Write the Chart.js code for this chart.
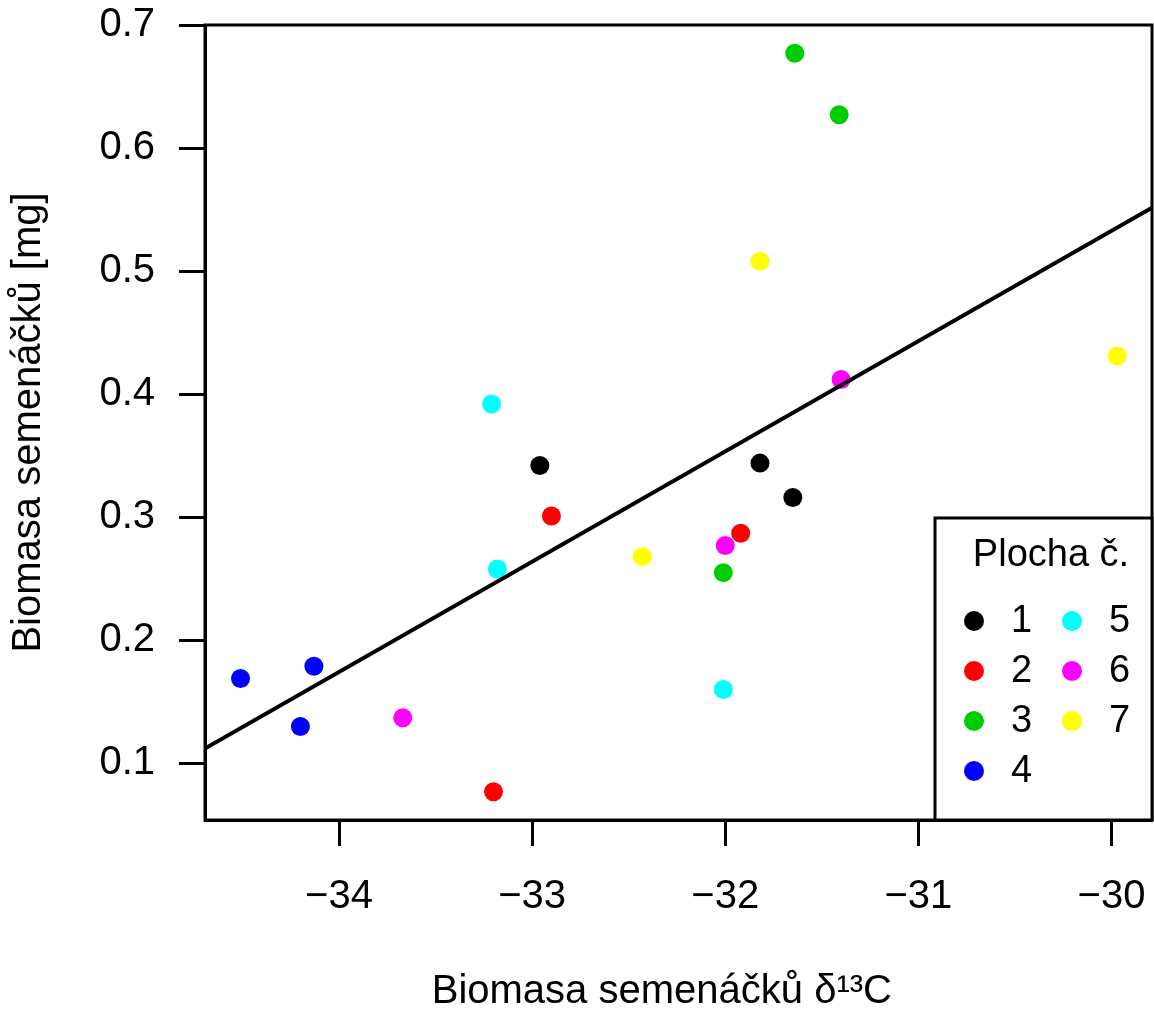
<!DOCTYPE html>
<html>
<head>
<meta charset="utf-8">
<script src="https://cdn.jsdelivr.net/npm/chart.js@4.4.1/dist/chart.umd.min.js"></script>
<style>
  html, body { margin: 0; padding: 0; background: #ffffff; }
  #wrap { width: 1154px; height: 1012px; position: relative; }
</style>
</head>
<body>
<div id="wrap"><canvas id="c" width="1154" height="1012"></canvas></div>
<script>
// ---- data ----
const plochaLabels = ['1', '2', '3', '4', '5', '6', '7'];
const plocha1X = [-32.96, -31.82, -31.65];
const plocha1Y = [0.342, 0.344, 0.316];
const plocha2X = [-32.90, -31.92, -33.20];
const plocha2Y = [0.301, 0.287, 0.077];
const plocha3X = [-31.64, -31.41, -32.01];
const plocha3Y = [0.677, 0.627, 0.255];
const plocha4X = [-34.51, -34.13, -34.20];
const plocha4Y = [0.169, 0.179, 0.130];
const plocha5X = [-33.21, -33.18, -32.01];
const plocha5Y = [0.392, 0.258, 0.160];
const plocha6X = [-31.40, -32.00, -33.67];
const plocha6Y = [0.412, 0.277, 0.137];
const plocha7X = [-31.82, -29.97, -32.43];
const plocha7Y = [0.508, 0.431, 0.268];
const fitLineX = [-34.69, -29.79];
const fitLineY = [0.1125, 0.5516];
const xTicks = [-34, -33, -32, -31, -30];
const yTicks = [0.1, 0.2, 0.3, 0.4, 0.5, 0.6, 0.7];
const xTitle = 'Biomasa semenáčků δ¹³C';
const yTitle = 'Biomasa semenáčků [mg]';
const legendTitle = 'Plocha č.';

// ---- style ----
const palette = ['#000000', '#FF0000', '#00CD00', '#0000FF', '#00FFFF', '#FF00FF', '#FFFF00'];
const FONT = '"Liberation Sans", Arial, Helvetica, sans-serif';

const seriesX = [plocha1X, plocha2X, plocha3X, plocha4X, plocha5X, plocha6X, plocha7X];
const seriesY = [plocha1Y, plocha2Y, plocha3Y, plocha4Y, plocha5Y, plocha6Y, plocha7Y];
const pointSets = plochaLabels.map((lab, i) => ({
  type: 'scatter',
  label: lab,
  data: seriesX[i].map((x, j) => ({ x: x, y: seriesY[i][j] })),
  backgroundColor: palette[i],
  borderWidth: 0,
  pointRadius: 9.5,
  pointHoverRadius: 9.5,
  order: 1
}));
const lineSet = {
  type: 'line',
  label: 'fit',
  data: fitLineX.map((x, j) => ({ x: x, y: fitLineY[j] })),
  borderColor: '#000000',
  borderWidth: 4,
  pointRadius: 0,
  fill: false,
  order: 0
};

const framePlugin = {
  id: 'frame',
  afterDraw(chart) {
    const { ctx, chartArea: a } = chart;
    ctx.save();
    ctx.strokeStyle = '#000';
    ctx.lineWidth = 3;
    ctx.strokeRect(a.left, a.top, a.right - a.left, a.bottom - a.top);

    // legend box (inside plot, bottom-right)
    const lx = 935, ly = 518;
    ctx.fillStyle = '#fff';
    ctx.fillRect(lx, ly, a.right - lx, a.bottom - ly);
    ctx.strokeRect(lx, ly, a.right - lx, a.bottom - ly);
    ctx.fillStyle = '#000';
    ctx.font = '38px ' + FONT;
    ctx.textAlign = 'center';
    ctx.textBaseline = 'middle';
    ctx.fillText(legendTitle, 1051, 556);
    const sets = chart.data.datasets.filter(d => d.type === 'scatter');
    const rowY = [621, 671, 721, 771];
    ctx.textAlign = 'left';
    sets.forEach((d, i) => {
      const col = i < 4 ? 0 : 1;
      const row = i < 4 ? i : i - 4;
      const dx = col === 0 ? 974 : 1072;
      const y = rowY[row];
      ctx.beginPath();
      ctx.arc(dx, y, 10, 0, Math.PI * 2);
      ctx.fillStyle = d.backgroundColor;
      ctx.fill();
      ctx.fillStyle = '#000';
      ctx.fillText(d.label, dx + 37, y + 1);
    });
    ctx.restore();
  }
};

new Chart(document.getElementById('c'), {
  type: 'scatter',
  data: { datasets: [lineSet, ...pointSets] },
  options: {
    responsive: false,
    animation: false,
    devicePixelRatio: 1,
    layout: { autoPadding: false, padding: { top: 25, right: 2, left: 0, bottom: 0 } },
    plugins: { legend: { display: false }, tooltip: { enabled: false } },
    scales: {
      x: {
        type: 'linear',
        min: -34.694,
        max: -29.79,
        afterBuildTicks(s) { s.ticks = xTicks.map(v => ({ value: v })); },
        afterFit(s) { s.height = 192; s.paddingLeft = 0; s.paddingRight = 0; },
        ticks: {
          color: '#000',
          font: { family: FONT, size: 40 },
          padding: 27,
          maxRotation: 0,
          autoSkip: false,
          callback: v => (v < 0 ? '\u2212' : '') + Math.abs(v)
        },
        grid: { drawOnChartArea: false, drawTicks: true, tickLength: 26, tickColor: '#000', tickWidth: 3 },
        border: { display: true, color: '#000', width: 3 },
        title: { display: true, text: xTitle + '\u00A0\u00A0\u00A0', color: '#000', font: { family: FONT, size: 40, lineHeight: 1 }, padding: { top: 0, bottom: 0 } }
      },
      y: {
        type: 'linear',
        min: 0.054,
        max: 0.7,
        afterBuildTicks(s) { s.ticks = yTicks.map(v => ({ value: v })); },
        afterFit(s) { s.width = 205; s.paddingTop = 0; s.paddingBottom = 0; },
        ticks: {
          color: '#000',
          font: { family: FONT, size: 40 },
          padding: 24,
          autoSkip: false,
          callback: v => v.toFixed(1)
        },
        grid: { drawOnChartArea: false, drawTicks: true, tickLength: 26, tickColor: '#000', tickWidth: 3 },
        border: { display: true, color: '#000', width: 3 },
        title: { display: true, text: yTitle, color: '#000', font: { family: FONT, size: 40 }, padding: { top: 5, bottom: 0 } }
      }
    }
  },
  plugins: [framePlugin]
});
</script>
</body>
</html>
